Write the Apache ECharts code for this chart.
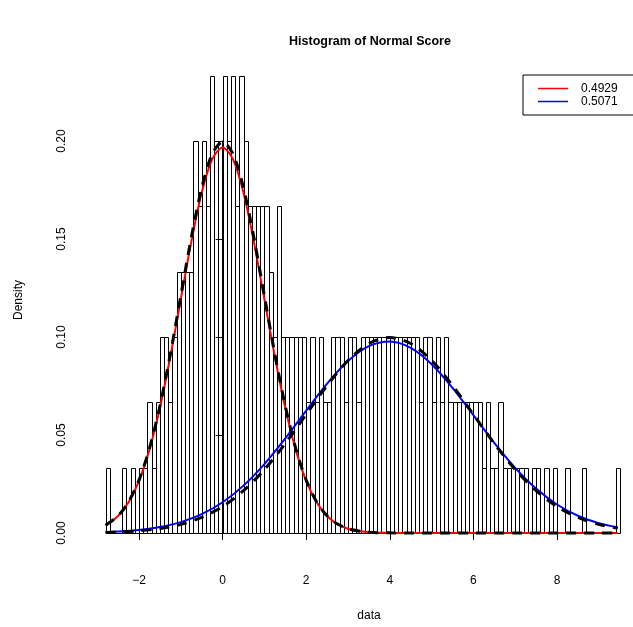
<!DOCTYPE html>
<html>
<head>
<meta charset="utf-8">
<script src="https://cdn.jsdelivr.net/npm/echarts@6/dist/echarts.min.js"></script>
<style>
html,body{margin:0;padding:0;background:#fff;}
#chart{width:633px;height:627px;}
</style>
</head>
<body>
<div id="chart"></div>
<script>
// ---- Histogram data (counts per bin of width 0.1 starting at -2.8) ----
const binStart = -2.8;
const binWidth = 0.1;
const nObs = 300;
const counts = [
  1,0,0,0,1,0,1,0,1,1,
  2,1,2,3,3,2,3,4,4,4,4,
  6,5,6,5,7,6,6,7,6,7,
  5,7,6,5,5,5,5,5,4,3,
  5,3,3,3,3,3,3,2,3,2,
  3,2,2,3,3,3,2,3,3,2,
  3,3,3,3,3,3,3,3,3,3,3,3,3,3,
  2,3,3,2,3,2,3,
  2,2,2,2,2,2,2,2,
  1,2,1,1,2,1,1,1,1,1,1,
  0,1,1,0,1,0,1,0,0,1,0,0,0,1,0,0,0,0,0,0,0,1
];

// ---- Fitted component curves ----
const redX = [-2.8,-2.5,-2.25,-2,-1.75,-1.5,-1.25,-1,-0.75,-0.5,-0.25,0,0.25,0.5,0.75,1,1.25,1.5,1.75,2,2.25,2.5,2.75,3,3.25,3.5,3.75,4,4.5,5,6,7,8,9,9.45];
const redY = [0.0039,0.00864,0.01564,0.02661,0.04253,0.06384,0.09003,0.11927,0.14843,0.17354,0.19059,0.19664,0.19059,0.17354,0.14843,0.11927,0.09003,0.06384,0.04253,0.02661,0.01564,0.00864,0.00448,0.00218,0.001,0.00043,0.00017,0.00007,0.00001,0,0,0,0,0,0];
const trueLeftY = [0.00396,0.00877,0.01587,0.027,0.04314,0.06476,0.09133,0.12099,0.15057,0.17604,0.19334,0.19947,0.19334,0.17604,0.15057,0.12099,0.09133,0.06476,0.04314,0.027,0.01587,0.00877,0.00455,0.00222,0.00102,0.00044,0.00017,0.00007,0.00001,0,0,0,0,0,0];
const blueX = [-2.8,-2.5,-2,-1.5,-1,-0.5,0,0.5,1,1.5,2,2.5,3,3.5,4,4.5,5,5.5,6,6.5,7,7.5,8,8.5,9,9.45];
const blueY = [0.00047,0.00075,0.00155,0.00302,0.00554,0.00959,0.01568,0.02417,0.03516,0.04823,0.06243,0.07621,0.08777,0.09535,0.09772,0.09446,0.08614,0.0741,0.06014,0.04604,0.03324,0.02265,0.01455,0.00882,0.00505,0.0029];
const trueRightY = [0.00031,0.00051,0.00111,0.00227,0.00438,0.00794,0.0135,0.02157,0.03238,0.04566,0.06049,0.07528,0.08802,0.09667,0.09974,0.09667,0.08802,0.07528,0.06049,0.04566,0.03238,0.02157,0.0135,0.00794,0.00438,0.00243];

const legendNames = ['0.4929', '0.5071'];
const xTicks = [-2, 0, 2, 4, 6, 8];
const yTicks = [0, 0.05, 0.10, 0.15, 0.20];

// ---- build ----
const histData = counts.map((c, i) => [binStart + i * binWidth, binStart + (i + 1) * binWidth, c / (nObs * binWidth)]);
const zip = (xs, ys) => xs.map((x, i) => [x, ys[i]]);
const FONT = "'Liberation Sans', Arial, Helvetica, sans-serif";

const chart = echarts.init(document.getElementById('chart'), null, {renderer: 'canvas'});
chart.setOption({
  animation: false,
  backgroundColor: '#fff',
  textStyle: {fontFamily: FONT, color: '#000'},
  title: {
    text: 'Histogram of Normal Score',
    left: 365, top: 30.5, textAlign: 'center',
    textStyle: {fontFamily: FONT, fontWeight: 'bold', fontSize: 12.5, color: '#000'}
  },
  legend: {
    data: [{name: legendNames[0], icon: 'rect'}, {name: legendNames[1], icon: 'rect'}],
    orient: 'vertical',
    left: 523, top: 75,
    padding: [7, 40, 7, 15],
    itemGap: 0,
    itemWidth: 30, itemHeight: 1.5,
    borderColor: '#000', borderWidth: 1,
    backgroundColor: '#fff',
    selectedMode: false,
    textStyle: {fontFamily: FONT, fontSize: 12, color: '#000', lineHeight: 13, padding: [0, 0, 0, 8]}
  },
  grid: [
    {left: 105.56, width: 514.14, top: 43, height: 490},
    {left: 139, width: 418, top: 141, height: 392},
    {left: 105, width: 528, top: 79, height: 454}
  ],
  xAxis: [
    {gridIndex: 0, type: 'value', min: -2.8, max: 9.5, show: false},
    {gridIndex: 1, type: 'value', min: xTicks[0], max: xTicks[xTicks.length - 1], interval: 2,
     position: 'bottom', offset: 29,
     axisLine: {lineStyle: {color: '#000', width: 1}},
     axisTick: {length: 7, lineStyle: {color: '#000', width: 1}},
     axisLabel: {color: '#000', fontSize: 12, fontFamily: FONT, margin: 13,
                 formatter: v => (v < 0 ? '\u2212' + Math.abs(v) : String(v))},
     splitLine: {show: false}},
    {gridIndex: 2, type: 'value', min: 0, max: 1,
     axisLine: {show: false}, axisTick: {show: false}, axisLabel: {show: false}, splitLine: {show: false},
     name: 'data', nameLocation: 'middle', nameGap: 89,
     nameTextStyle: {fontFamily: FONT, fontSize: 12, color: '#000'}}
  ],
  yAxis: [
    {gridIndex: 0, type: 'value', min: 0, max: 0.25, show: false},
    {gridIndex: 1, type: 'value', min: yTicks[0], max: yTicks[yTicks.length - 1], interval: 0.05,
     position: 'left', offset: 59,
     axisLine: {show: true, lineStyle: {color: '#000', width: 1}},
     axisTick: {show: true, length: 7, lineStyle: {color: '#000', width: 1}},
     axisLabel: {color: '#000', fontSize: 12, fontFamily: FONT, margin: 12, rotate: 90,
                 formatter: v => v.toFixed(2)},
     splitLine: {show: false}},
    {gridIndex: 2, type: 'value', min: 0, max: 1,
     axisLine: {show: false}, axisTick: {show: false}, axisLabel: {show: false}, splitLine: {show: false},
     name: 'Density', nameLocation: 'middle', nameGap: 80,
     nameTextStyle: {fontFamily: FONT, fontSize: 12, color: '#000'}}
  ],
  series: [
    {
      type: 'custom', xAxisIndex: 0, yAxisIndex: 0, silent: true,
      data: histData,
      encode: {x: [0, 1], y: 2},
      renderItem: function (params, api) {
        const p0 = api.coord([api.value(0), 0]);
        const p1 = api.coord([api.value(1), api.value(2)]);
        const l = Math.round(p0[0]) + 0.5, r = Math.round(p1[0]) + 0.5;
        const b = Math.round(p0[1]) + 0.5, t = Math.round(p1[1]) + 0.5;
        return {type: 'rect', shape: {x: l, y: t, width: r - l, height: b - t},
                style: {fill: 'none', stroke: '#000', lineWidth: 1}};
      }
    },
    {type: 'line', name: legendNames[0], xAxisIndex: 0, yAxisIndex: 0, data: zip(redX, redY),
     showSymbol: false, smooth: 0.3, clip: false, silent: true,
     itemStyle: {color: '#ff0000'}, lineStyle: {color: '#ff0000', width: 2}},
    {type: 'line', name: legendNames[1], xAxisIndex: 0, yAxisIndex: 0, data: zip(blueX, blueY),
     showSymbol: false, smooth: 0.3, clip: false, silent: true,
     itemStyle: {color: '#0000ff'}, lineStyle: {color: '#0000ff', width: 2}},
    {type: 'line', name: 'trueLeft', xAxisIndex: 0, yAxisIndex: 0, data: zip(redX, trueLeftY),
     showSymbol: false, smooth: 0.3, clip: false, silent: true,
     lineStyle: {color: '#000', width: 3, type: [10, 8], cap: 'butt'}},
    {type: 'line', name: 'trueRight', xAxisIndex: 0, yAxisIndex: 0, data: zip(blueX, trueRightY),
     showSymbol: false, smooth: 0.3, clip: false, silent: true,
     lineStyle: {color: '#000', width: 3, type: [10, 8], cap: 'butt'}}
  ]
});
</script>
</body>
</html>
